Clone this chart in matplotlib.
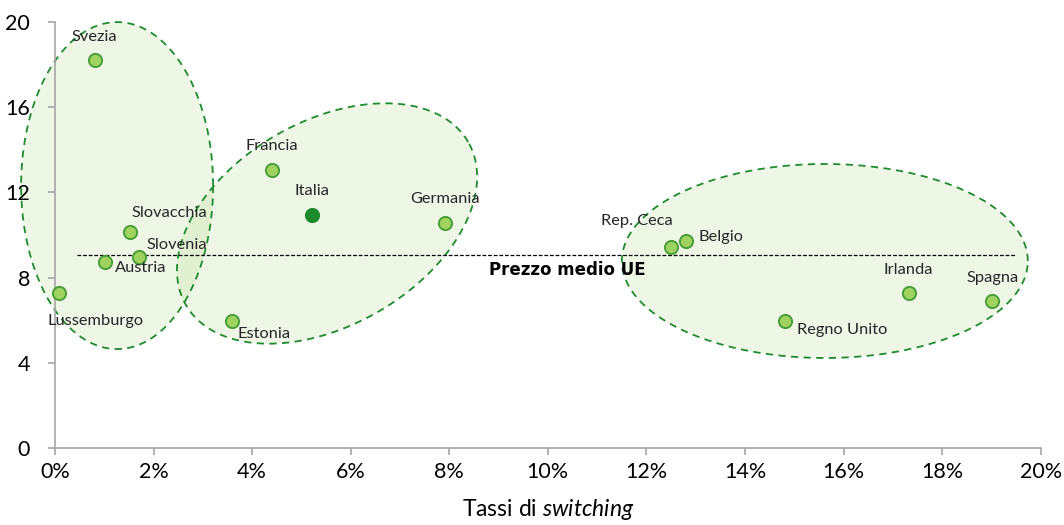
import numpy as np
import matplotlib.pyplot as plt

# Data
countries = ["Svezia", "Slovacchia", "Slovenia", "Austria", "Lussemburgo",
             "Francia", "Italia", "Germania", "Estonia",
             "Rep. Ceca", "Belgio", "Regno Unito", "Irlanda", "Spagna"]
switching = [0.81, 1.52, 1.71, 1.02, 0.09,
             4.40, 5.21, 7.91, 3.60,
             12.49, 12.80, 14.81, 17.32, 19.02]
prices = [18.2, 10.15, 8.98, 8.73, 7.29,
          13.05, 10.95, 10.55, 5.98,
          9.45, 9.72, 5.98, 7.29, 6.92]
eu_mean_price = 9.05
eu_mean_range = [0.45, 19.5]

# label offsets in pixels (dx, dy, ha)
label_pos = {
    "Svezia": (-1, 23, "center"), "Slovacchia": (2, 19, "left"),
    "Slovenia": (7, 12, "left"), "Austria": (10, -6, "left"),
    "Lussemburgo": (-12, -28, "left"), "Francia": (0, 24, "center"),
    "Italia": (0, 24, "center"), "Germania": (0, 24, "center"),
    "Estonia": (5, -13, "left"), "Rep. Ceca": (-34, 26, "center"),
    "Belgio": (13, 4, "left"), "Regno Unito": (12, -9, "left"),
    "Irlanda": (0, 23, "center"), "Spagna": (0, 23, "center"),
}

plt.rcParams['font.family'] = 'Lato'
plt.rcParams['mathtext.fontset'] = 'custom'
plt.rcParams['mathtext.it'] = 'Lato:italic'
plt.rcParams['mathtext.rm'] = 'Lato'

W, H = 1064, 525
fig = plt.figure(figsize=(W / 100, H / 100), dpi=100)
ax = fig.add_axes([55 / W, 77 / H, 985.7 / W, 426 / H])
ax.set_xlim(0, 20)
ax.set_ylim(0, 20)
sx = 985.7 / 20  # px per unit
sy = 426 / 20

# cluster ellipses: centre (data), semi-axes (px), angle (deg)
ellipses = [((1.26, 12.32), 96, 163.5, 0),
            ((5.52, 10.54), 163, 102, 30),
            ((15.62, 8.78), 203, 97, 0)]
t = np.linspace(0, 2 * np.pi, 300)
for (cx, cy), a, b, ang in ellipses:
    th = np.radians(ang)
    xp = a * np.cos(t)
    yp = b * np.sin(t)
    xr = xp * np.cos(th) - yp * np.sin(th)
    yr = xp * np.sin(th) + yp * np.cos(th)
    ex, ey = cx + xr / sx, cy + yr / sy
    ax.fill(ex, ey, color='#a1d374', alpha=0.18, lw=0, zorder=1, clip_on=False)
    ax.plot(ex, ey, color='#1f8a2e', lw=1.3, ls=(0, (4, 3)), zorder=2, clip_on=False)

# EU average price line
ax.plot(eu_mean_range, [eu_mean_price] * 2, color='black', lw=0.9,
        ls=(0, (3, 1.5)), zorder=3)
ax.text(10.4, eu_mean_price - 0.7, "Prezzo medio UE", family='DejaVu Sans',
        fontweight='bold', fontsize=12, ha='center', va='center', zorder=4)

for name, x, y in zip(countries, switching, prices):
    face = '#1a8a2a' if name == "Italia" else '#9fd35f'
    edge = '#1a8a2a' if name == "Italia" else '#4a9e3a'
    ax.plot(x, y, 'o', ms=9.5, mfc=face, mec=edge, mew=1.4, zorder=5, clip_on=False)
    dx, dy, ha = label_pos[name]
    ax.annotate(name, (x, y), xytext=(dx, dy), textcoords='offset pixels',
                ha=ha, va='center', fontsize=11.8, color='#262626', zorder=6)

for s in ['top', 'right']:
    ax.spines[s].set_visible(False)
for s in ['left', 'bottom']:
    ax.spines[s].set_color('#a6a6a6')
    ax.spines[s].set_linewidth(1.2)

ax.set_xticks(np.arange(0, 21, 2))
ax.set_xticklabels([f"{v}%" for v in range(0, 21, 2)])
ax.set_yticks(np.arange(0, 21, 4))
ax.tick_params(axis='both', direction='out', length=5, width=1.2,
               color='#a6a6a6', labelsize=15.5)
ax.tick_params(axis='y', pad=13)
ax.tick_params(axis='x', pad=5)
ax.set_xlabel(r"Tassi di $\mathit{switching}$", fontsize=16.5, labelpad=11)

fig.savefig("out.png", dpi=100)
